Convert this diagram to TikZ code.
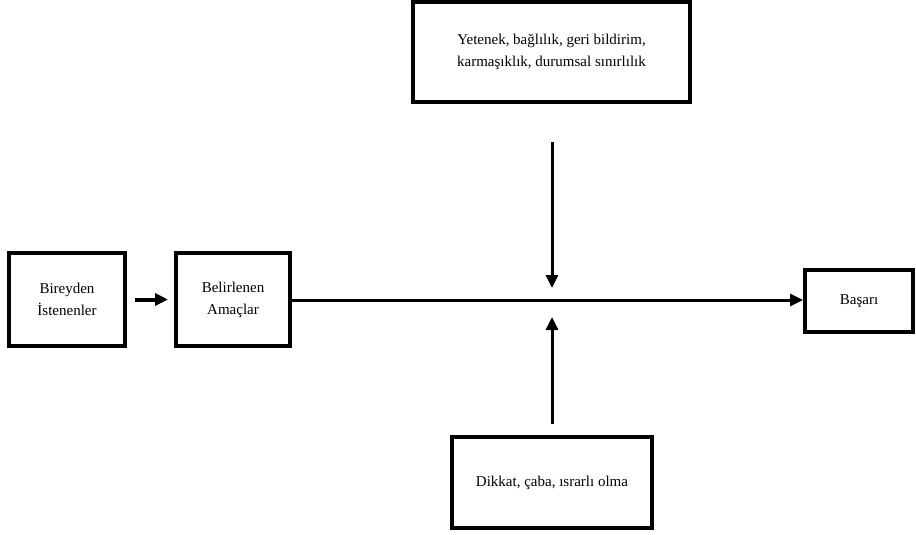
\documentclass[tikz,border=0pt]{standalone}
\usepackage{fontspec}
\setmainfont{Liberation Serif}
\usetikzlibrary{arrows.meta}
\begin{document}
\begin{tikzpicture}[x=1pt,y=-1pt,
  box/.style={draw=black,line width=4pt,fill=white,inner sep=0pt,align=center,
    font=\fontsize{15}{22}\selectfont},
  flow/.style={line width=3pt,-{Triangle[length=13pt,width=12pt]}}]
\useasboundingbox (0,0) rectangle (916,535);
% boxes, given by their corners
\node[box,minimum width=116pt,minimum height=93pt] (ist) at (67,299.5) {Bireyden\\İstenenler};
\node[box,minimum width=114pt,minimum height=93pt] (ama) at (233,299.5) {Belirlenen\\Amaçlar};
\node[box,minimum width=108pt,minimum height=62pt] (bas) at (859,301) {Başarı};
\node[box,minimum width=277pt,minimum height=100pt] (top) at (551.5,52) {Yetenek, bağlılık, geri bildirim,\\karmaşıklık, durumsal sınırlılık};
\node[box,minimum width=200pt,minimum height=91pt] (bot) at (552,482.5) {Dikkat, çaba, ısrarlı olma};
% junction on the main line
\coordinate (j) at (552,300);
\coordinate (jt) at (552,288);
\coordinate (jb) at (552,317);
\coordinate (ts) at (552,142);
\coordinate (bs) at (552,424);
% connectors
\draw[flow,line width=4pt] ([xshift=8pt]ist.east) -- ([xshift=-6pt]ama.east -| ama.west);
\draw[flow] (ama.east |- j) -- (bas.west |- j);
\draw[flow] (ts) -- (jt);
\draw[flow] (bs) -- (jb);
\end{tikzpicture}
\end{document}
